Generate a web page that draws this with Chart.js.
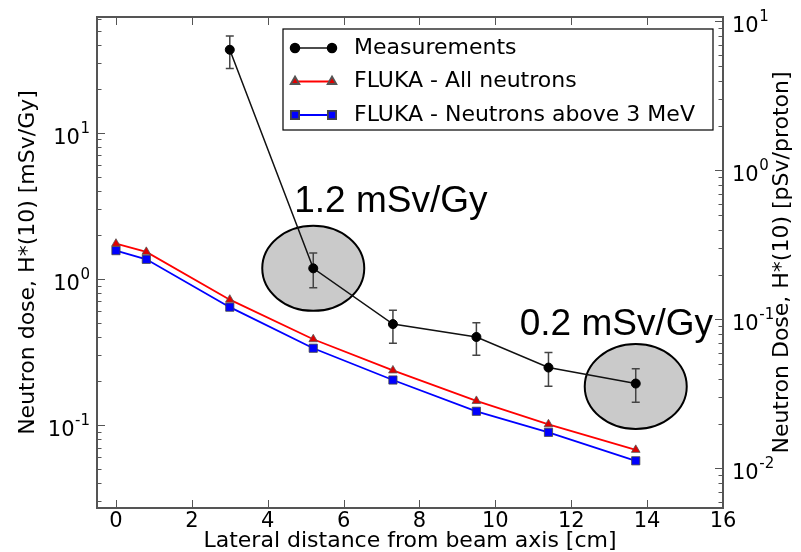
<!DOCTYPE html>
<html>
<head>
<meta charset="utf-8">
<script src="https://cdn.jsdelivr.net/npm/chart.js@4.4.1/dist/chart.umd.min.js"></script>
<style>
  html, body { margin: 0; padding: 0; background: #fff; }
  #wrap { width: 801px; height: 552px; position: relative; }
</style>
</head>
<body>
<div id="wrap"><canvas id="doseChart"></canvas></div>
<script>
// measurements, lateral position [cm] and H*(10) [mSv/Gy]
const measX = [3, 5.2, 7.3, 9.5, 11.4, 13.7];
const measDose = [37, 1.18, 0.49, 0.40, 0.247, 0.192];
const measLow = [27.5, 0.87, 0.363, 0.30, 0.184, 0.143];
const measHigh = [46, 1.5, 0.61, 0.50, 0.313, 0.242];

// FLUKA simulations
const flukaX = [0, 0.8, 3, 5.2, 7.3, 9.5, 11.4, 13.7];
const flukaAll = [1.74, 1.53, 0.72, 0.386, 0.236, 0.146, 0.101, 0.0675];
const flukaFast = [1.56, 1.36, 0.64, 0.335, 0.203, 0.124, 0.089, 0.0568];

const xTicks = [0, 2, 4, 6, 8, 10, 12, 14, 16];
const leftDecades = [0.01, 0.1, 1, 10];
const rightDecades = [0.001, 0.01, 0.1, 1, 10];

const notes = [
  { text: '1.2 mSv/Gy', at: 1 },
  { text: '0.2 mSv/Gy', at: 5 }
];
const noteLayout = [{ dx: -19, dy: -56, ey: 0 }, { dx: -116, dy: -49, ey: 3 }];

const FONT = "'DejaVu Sans', sans-serif";
const rightTitle = 'Neutron Dose, H*(10) [pSv/proton]';

function logTicks(decades, min, max) {
  const out = [];
  decades.forEach(d => {
    for (let k = 1; k < 10; k++) {
      const v = d * k;
      if (v >= min && v <= max) out.push({ value: v });
    }
  });
  return out;
}
function isPow10(v) {
  const e = Math.round(Math.log10(v));
  return Math.abs(v / Math.pow(10, e) - 1) < 1e-6;
}

// "10" with a raised exponent, like matplotlib's mathtext
function powLabel(ctx, v, x, y, align) {
  const e = String(Math.round(Math.log10(v)));
  ctx.font = '21px ' + FONT;
  const bw = ctx.measureText('10').width;
  ctx.font = '15px ' + FONT;
  const ew = ctx.measureText(e).width;
  const left = align === 'right' ? x - bw - ew - 0.5 : x;
  ctx.textAlign = 'left';
  ctx.textBaseline = 'alphabetic';
  ctx.fillStyle = '#000';
  ctx.font = '21px ' + FONT;
  ctx.fillText('10', left, y + 11);
  ctx.font = '15px ' + FONT;
  ctx.fillText(e, left + bw + 0.5, y);
}

const pts = (xs, ys) => xs.map((x, i) => ({ x: x, y: ys[i] }));

const decor = {
  id: 'decor',
  beforeDatasetsDraw(chart) {
    const { ctx } = chart;
    const xs = chart.scales.x, ys = chart.scales.y;
    ctx.save();
    notes.forEach((n, i) => {
      const L = noteLayout[i];
      const cx = xs.getPixelForValue(measX[n.at]);
      const cy = ys.getPixelForValue(measDose[n.at]);
      ctx.beginPath();
      ctx.ellipse(cx, cy + L.ey, 51, 42.5, 0, 0, Math.PI * 2);
      ctx.fillStyle = '#cacaca';
      ctx.fill();
      ctx.lineWidth = 2;
      ctx.strokeStyle = '#000';
      ctx.stroke();
      ctx.font = "37px 'Liberation Sans', Arial, sans-serif";
      ctx.fillStyle = '#000';
      ctx.textAlign = 'left';
      ctx.textBaseline = 'alphabetic';
      ctx.fillText(n.text, cx + L.dx, cy + L.dy);
    });
    // error bars
    ctx.strokeStyle = '#444';
    ctx.lineWidth = 1.5;
    measX.forEach((v, i) => {
      const px = xs.getPixelForValue(v);
      const top = ys.getPixelForValue(measHigh[i]);
      const bot = ys.getPixelForValue(measLow[i]);
      ctx.beginPath();
      ctx.moveTo(px, top); ctx.lineTo(px, bot);
      ctx.moveTo(px - 4, top); ctx.lineTo(px + 4, top);
      ctx.moveTo(px - 4, bot); ctx.lineTo(px + 4, bot);
      ctx.stroke();
    });
    ctx.restore();
  },
  afterDatasetsDraw(chart) {
    const { ctx, chartArea: a } = chart;
    const xs = chart.scales.x, ys = chart.scales.y, y2 = chart.scales.y2;
    ctx.save();
    // inward ticks
    ctx.strokeStyle = '#555';
    ctx.lineWidth = 1;
    ctx.beginPath();
    xs.ticks.forEach(t => {
      const px = Math.round(xs.getPixelForValue(t.value)) + 0.5;
      ctx.moveTo(px, a.bottom); ctx.lineTo(px, a.bottom - 8);
      ctx.moveTo(px, a.top); ctx.lineTo(px, a.top + 8);
    });
    ys.ticks.forEach(t => {
      const py = Math.round(ys.getPixelForValue(t.value)) + 0.5;
      const len = isPow10(t.value) ? 8 : 4.5;
      ctx.moveTo(a.left, py); ctx.lineTo(a.left + len, py);
    });
    y2.ticks.forEach(t => {
      const py = Math.round(y2.getPixelForValue(t.value)) + 0.5;
      const len = isPow10(t.value) ? 8 : 4.5;
      ctx.moveTo(a.right, py); ctx.lineTo(a.right - len, py);
    });
    ctx.stroke();
    // frame
    ctx.strokeStyle = '#555';
    ctx.lineWidth = 2;
    ctx.strokeRect(a.left, a.top, a.right - a.left, a.bottom - a.top);

    // log tick labels
    ys.ticks.filter(t => isPow10(t.value)).forEach(t =>
      powLabel(ctx, t.value, a.left - 7, ys.getPixelForValue(t.value), 'right'));
    y2.ticks.filter(t => isPow10(t.value)).forEach(t =>
      powLabel(ctx, t.value, a.right + 9, y2.getPixelForValue(t.value), 'left'));

    // legend
    const w = 430, h = 101;
    const x0 = a.right - 10 - w, y0 = a.top + 12;
    ctx.fillStyle = '#fff';
    ctx.fillRect(x0, y0, w, h);
    ctx.strokeStyle = '#000';
    ctx.lineWidth = 1.2;
    ctx.strokeRect(x0, y0, w, h);
    chart.data.datasets.forEach((ds, i) => {
      const yy = y0 + 19 + i * 33.5;
      const xa = x0 + 12, xb = x0 + 49;
      ctx.strokeStyle = ds.borderColor;
      ctx.lineWidth = ds.borderWidth;
      ctx.beginPath(); ctx.moveTo(xa, yy); ctx.lineTo(xb, yy); ctx.stroke();
      ctx.fillStyle = ds.pointBackgroundColor;
      ctx.strokeStyle = ds.pointBorderColor;
      [xa, xb].forEach(px => Chart.helpers.drawPoint(ctx, {
        pointStyle: ds.pointStyle, radius: ds.pointRadius, rotation: 0, borderWidth: ds.pointBorderWidth
      }, px, yy));
      ctx.fillStyle = '#000';
      ctx.font = '22px ' + FONT;
      ctx.textAlign = 'left';
      ctx.textBaseline = 'middle';
      ctx.fillText(ds.label, x0 + 71, yy);
    });

    // right axis title, read bottom to top
    ctx.translate(chart.width - 19, (a.top + a.bottom) / 2);
    ctx.rotate(-Math.PI / 2);
    ctx.fillStyle = '#000';
    ctx.font = '22px ' + FONT;
    ctx.textAlign = 'center';
    ctx.textBaseline = 'middle';
    ctx.fillText(rightTitle, 0, 0);
    ctx.restore();
  }
};

new Chart(document.getElementById('doseChart'), {
  type: 'line',
  data: {
    datasets: [{
      label: 'Measurements',
      data: pts(measX, measDose),
      borderColor: '#111',
      borderWidth: 1.5,
      pointStyle: 'circle',
      pointRadius: 4.5,
      pointBackgroundColor: '#000',
      pointBorderColor: '#000',
      pointBorderWidth: 1,
      tension: 0
    }, {
      label: 'FLUKA - All neutrons',
      data: pts(flukaX, flukaAll),
      borderColor: '#ff0000',
      borderWidth: 1.8,
      pointStyle: 'triangle',
      pointRadius: 5,
      pointBackgroundColor: '#e00000',
      pointBorderColor: '#555',
      pointBorderWidth: 0.8,
      tension: 0
    }, {
      label: 'FLUKA - Neutrons above 3 MeV',
      data: pts(flukaX, flukaFast),
      borderColor: '#0000ff',
      borderWidth: 1.8,
      pointStyle: 'rect',
      pointRadius: 5.8,
      pointBackgroundColor: '#0000ff',
      pointBorderColor: '#444',
      pointBorderWidth: 0.8,
      tension: 0
    }]
  },
  options: {
    responsive: true,
    maintainAspectRatio: false,
    animation: false,
    layout: { padding: { top: 17, left: 0, right: 0, bottom: 0 } },
    plugins: { legend: { display: false }, tooltip: { enabled: false } },
    scales: {
      x: {
        type: 'linear', min: -0.5, max: 16,
        afterBuildTicks: s => { s.ticks = xTicks.map(v => ({ value: v })); },
        afterFit: s => { s.height = 44; },
        grid: { display: false, drawTicks: false },
        border: { display: false },
        ticks: { font: { family: FONT, size: 21 }, color: '#000', padding: 1, maxRotation: 0, autoSkip: false },
        title: {
          display: true, text: 'Lateral distance from beam axis [cm]', color: '#000',
          font: { family: FONT, size: 22, lineHeight: 1 }, padding: { top: 0, bottom: 0 }
        }
      },
      y: {
        type: 'logarithmic', position: 'left', min: 0.027, max: 62,
        afterBuildTicks: s => { s.ticks = logTicks(leftDecades, 0.027, 62); },
        afterFit: s => { s.width = 97; },
        grid: { display: false, drawTicks: false },
        border: { display: false },
        ticks: { display: false },
        title: {
          display: true, text: 'Neutron dose, H*(10) [mSv/Gy]', color: '#000',
          font: { family: FONT, size: 22, lineHeight: 1 }, padding: { top: 17, bottom: 0 }
        }
      },
      y2: {
        type: 'logarithmic', position: 'right', min: 0.00543, max: 10.72, display: true,
        afterBuildTicks: s => { s.ticks = logTicks(rightDecades, 0.00543, 10.72); },
        afterFit: s => { s.width = 78; },
        grid: { display: false, drawTicks: false },
        border: { display: false },
        ticks: { display: false }
      }
    }
  },
  plugins: [decor]
});
</script>
</body>
</html>
